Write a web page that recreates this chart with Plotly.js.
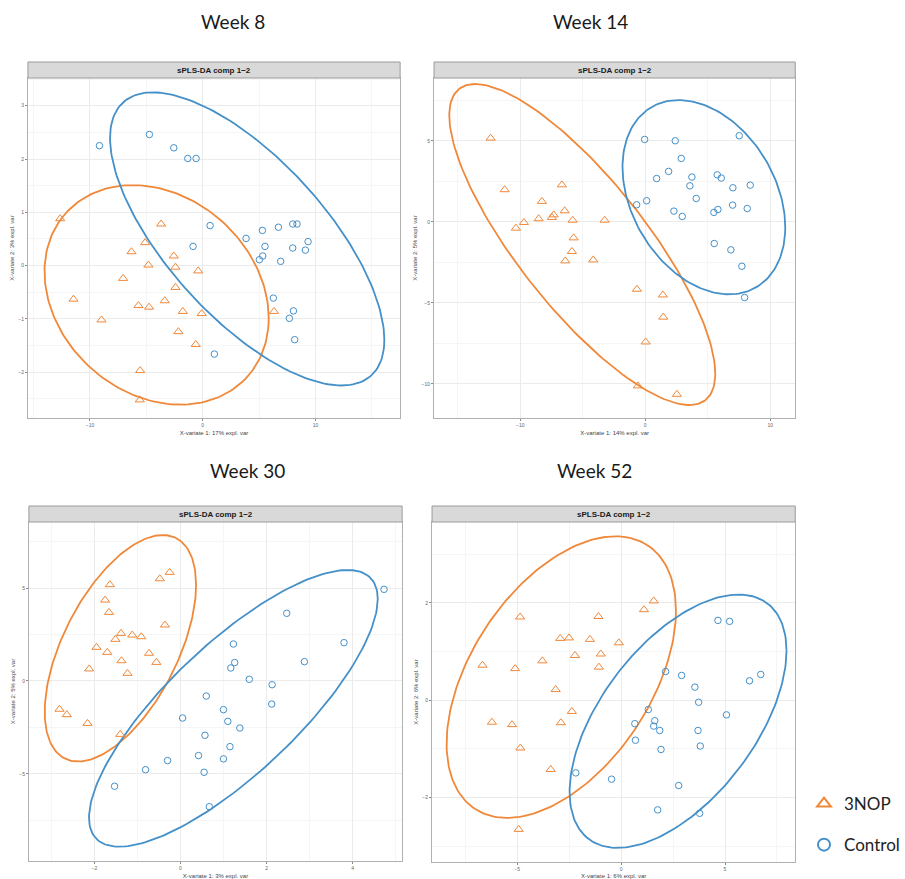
<!DOCTYPE html>
<html><head><meta charset="utf-8">
<script src="https://cdn.plot.ly/plotly-3.0.1.min.js"></script>
<style>html,body{margin:0;padding:0;background:#fff}</style>
</head><body><div id="chart" style="width:905px;height:879px"></div>
<script>
// ---------- data ----------
const groups = ["3NOP", "Control"];
const weeks = ["Week 8", "Week 14", "Week 30", "Week 52"];
const stripLabel = "sPLS-DA comp 1\u22122";
const xTitles = ["X-variate 1: 17% expl. var", "X-variate 1: 14% expl. var", "X-variate 1: 3% expl. var", "X-variate 1: 6% expl. var"];
const yTitles = ["X-variate 2: 3% expl. var", "X-variate 2: 5% expl. var", "X-variate 2: 5% expl. var", "X-variate 2: 6% expl. var"];

// Week 8
const w8NopX = [-12.64,-3.69,-5.11,-6.32,-2.57,-4.82,-2.42,-0.41,-7.06,-2.42,-11.46,-3.37,-5.70,-4.76,-1.77,-0.09,-8.98,6.32,-2.16,-0.62,-5.55,-5.58];
const w8NopY = [0.88,0.78,0.43,0.26,0.18,0.01,-0.03,-0.10,-0.24,-0.41,-0.63,-0.66,-0.75,-0.78,-0.86,-0.90,-1.02,-0.86,-1.24,-1.48,-1.97,-2.52];
const w8CtlX = [-9.16,-4.73,-2.57,-1.33,-0.59,0.65,-0.86,3.84,5.29,6.71,7.98,8.36,5.52,5.32,5.02,6.91,7.98,9.10,9.34,6.26,8.04,7.68,8.15,1.03];
const w8CtlY = [2.25,2.46,2.21,2.01,2.01,0.75,0.36,0.51,0.66,0.72,0.78,0.78,0.36,0.18,0.11,0.08,0.33,0.29,0.45,-0.61,-0.85,-0.99,-1.39,-1.66];
// ellipse: [centre x, centre y, half width, half height, x at the top]
const w8EllNop = [-4.09,-0.55,9.94,2.06,-6.2];
const w8EllCtl = [3.94,0.50,12.16,2.75,-4.43];

// Week 14
const w14NopX = [-12.37,-11.25,-6.67,-8.27,-10.35,-9.71,-8.53,-7.47,-7.33,-6.45,-5.81,-3.25,-5.73,-5.87,-6.40,-4.16,-0.67,1.41,1.44,0.03,-0.59,2.53];
const w14NopY = [5.16,1.98,2.28,1.26,-0.39,-0.04,0.19,0.27,0.43,0.68,0.10,0.10,-0.99,-1.83,-2.41,-2.35,-4.16,-4.51,-5.88,-7.41,-10.12,-10.64];
const w14CtlX = [-0.05,2.40,7.52,2.88,1.87,0.91,3.73,5.76,6.08,8.40,7.01,3.57,4.08,0.11,2.29,2.96,5.49,5.81,6.99,8.16,5.52,6.85,7.73,7.95,-0.69];
const w14CtlY = [5.08,5.00,5.31,3.91,3.11,2.67,2.76,2.90,2.70,2.26,2.10,2.22,1.44,1.30,0.66,0.33,0.58,0.76,1.03,0.82,-1.34,-1.73,-2.74,-4.67,1.05];
const w14EllNop = [-5.04,-1.40,10.64,9.90,-13.6];
const w14EllCtl = [4.69,1.52,6.51,5.99,2.67];

// Week 30
const w30NopX = [-0.25,-0.48,-1.64,-1.75,-1.66,-0.36,-1.38,-1.12,-0.91,-1.51,-1.95,-1.70,-0.73,-1.37,-0.56,-2.12,-1.23,-2.81,-2.64,-2.16,-1.40];
const w30NopY = [5.84,5.50,5.18,4.35,3.69,3.01,2.56,2.47,2.38,2.24,1.81,1.54,1.49,1.09,1.00,0.65,0.41,-1.52,-1.81,-2.28,-2.87];
const w30CtlX = [4.73,2.47,3.80,1.23,2.88,1.26,1.17,1.60,2.13,2.12,0.60,1.00,0.05,1.10,1.38,0.57,1.15,0.42,1.00,-0.30,-0.81,0.55,-1.53,0.67];
const w30CtlY = [4.93,3.64,2.06,1.99,1.04,0.99,0.70,0.09,-0.20,-1.24,-0.81,-1.54,-1.99,-2.17,-2.53,-2.92,-3.53,-4.01,-4.19,-4.28,-4.77,-4.91,-5.66,-6.76];
const w30EllNop = [-1.395,1.76,1.758,6.09,-0.41];
const w30EllCtl = [1.23,-1.47,3.354,7.44,3.88];

// Week 52
const w52NopX = [1.57,1.10,-4.86,-1.09,-2.93,-2.51,-1.50,-0.11,-2.22,-0.98,-6.67,-3.79,-5.10,-1.07,-3.15,-2.37,-6.22,-5.25,-2.90,-4.85,-3.39,-4.93];
const w52NopY = [2.04,1.86,1.71,1.72,1.27,1.28,1.25,1.18,0.92,0.95,0.72,0.81,0.65,0.68,0.22,-0.23,-0.45,-0.50,-0.46,-0.98,-1.42,-2.65];
const w52CtlX = [4.66,5.22,2.14,2.91,3.55,6.18,6.72,3.73,1.31,5.07,0.66,1.62,1.57,1.86,3.70,0.69,1.92,3.81,-2.18,-0.46,2.77,1.76,3.78];
const w52CtlY = [1.64,1.62,0.59,0.51,0.27,0.40,0.53,-0.04,-0.19,-0.30,-0.48,-0.42,-0.53,-0.62,-0.62,-0.82,-1.01,-0.94,-1.49,-1.62,-1.75,-2.25,-2.32];
const w52EllNop = [-2.88,0.476,5.52,2.89,-0.27];
const w52EllCtl = [2.74,-0.43,5.22,2.60,5.65];

// ---------- drawing ----------
const colNop = "#F0883A", colCtl = "#4590C8";
const W = 905, H = 879;
const panels = [
  {nx:w8NopX, ny:w8NopY, cx:w8CtlX, cy:w8CtlY, en:w8EllNop, ec:w8EllCtl, px:[28,401], py:[78,418], xr:[-15.5,17.5], yr:[-2.86,3.52], xd:10, yd:1},
  {nx:w14NopX, ny:w14NopY, cx:w14CtlX, cy:w14CtlY, en:w14EllNop, ec:w14EllCtl, px:[435,797], py:[78,418], xr:[-16.9,12.0], yr:[-12.1,8.87], xd:10, yd:5},
  {nx:w30NopX, ny:w30NopY, cx:w30CtlX, cy:w30CtlY, en:w30EllNop, ec:w30EllCtl, px:[29,403], py:[522,861], xr:[-3.52,5.15], yr:[-9.68,8.55], xd:2, yd:5},
  {nx:w52NopX, ny:w52NopY, cx:w52CtlX, cy:w52CtlY, en:w52EllNop, ec:w52EllCtl, px:[433,797], py:[522,862], xr:[-9.1,8.38], yr:[-3.32,3.66], xd:5, yd:2}
];
const titlePos = [[234,22],[592,22],[248,470],[596,470]];

function ellipse(p){
  const [cx,cy,rx,ry,xt] = p;
  const phi = Math.acos(Math.max(-1,Math.min(1,(xt-cx)/rx)));
  const xs=[], ys=[];
  for(let i=0;i<=200;i++){const t=2*Math.PI*i/200; xs.push(cx+rx*Math.cos(t)); ys.push(cy+ry*Math.cos(t-phi));}
  return {xs, ys};
}

const traces = [], shapes = [], annotations = [];
const layout = {width:W, height:H, margin:{l:0,r:0,t:0,b:0}, paper_bgcolor:"#fff", plot_bgcolor:"#fff",
  showlegend:true,
  legend:{x:806/W, y:1-786/H, xanchor:"left", yanchor:"top", font:{family:"Lato, sans-serif", size:17, color:"#222"},
    tracegroupgap:16, itemsizing:"constant", itemwidth:30, bgcolor:"rgba(0,0,0,0)"}};

panels.forEach((p,i)=>{
  const sx = i===0?"":String(i+1);
  const xa="x"+sx, ya="y"+sx;
  const en=ellipse(p.en), ec=ellipse(p.ec);
  traces.push({type:"scatter", mode:"lines", x:en.xs, y:en.ys, xaxis:xa, yaxis:ya, line:{color:colNop,width:1.8}, showlegend:false, hoverinfo:"skip"});
  traces.push({type:"scatter", mode:"lines", x:ec.xs, y:ec.ys, xaxis:xa, yaxis:ya, line:{color:colCtl,width:1.8}, showlegend:false, hoverinfo:"skip"});
  traces.push({type:"scatter", mode:"markers", name:groups[0], legendgroup:"g0", showlegend:i===0, x:p.nx, y:p.ny, xaxis:xa, yaxis:ya,
    marker:{symbol:"triangle-up-open", size:8, color:colNop, line:{width:1}}});
  traces.push({type:"scatter", mode:"markers", name:groups[1], legendgroup:"g1", showlegend:i===0, x:p.cx, y:p.cy, xaxis:xa, yaxis:ya,
    marker:{symbol:"circle-open", size:6.5, color:colCtl, line:{width:1}}});
  const common = {showgrid:true, gridcolor:"#ebebeb", gridwidth:1, zeroline:false, showline:true, mirror:true, linecolor:"#b0b0b0", linewidth:1,
    ticks:"outside", ticklen:2, tickcolor:"#888", tickfont:{size:5, color:"#666", family:"Liberation Sans, sans-serif"}};
  layout["xaxis"+sx] = Object.assign({}, common, {domain:[p.px[0]/W, p.px[1]/W], anchor:ya, range:p.xr, dtick:p.xd, tick0:0,
    minor:{showgrid:true, gridcolor:"#f5f5f5", dtick:p.xd/2, tick0:0},
    title:{text:xTitles[i], font:{size:6, color:"#444", family:"Liberation Sans, sans-serif"}, standoff:3}});
  layout["yaxis"+sx] = Object.assign({}, common, {domain:[1-p.py[1]/H, 1-p.py[0]/H], anchor:xa, range:p.yr, dtick:p.yd, tick0:0,
    minor:{showgrid:true, gridcolor:"#f5f5f5", dtick:p.yd/2, tick0:0},
    title:{text:yTitles[i], font:{size:6, color:"#444", family:"Liberation Sans, sans-serif"}, standoff:3}});
  shapes.push({type:"rect", xref:"paper", yref:"paper", x0:p.px[0]/W, x1:p.px[1]/W, y0:1-p.py[0]/H, y1:1-(p.py[0]-16)/H,
    fillcolor:"#d9d9d9", line:{color:"#9a9a9a", width:1}});
  annotations.push({xref:"paper", yref:"paper", x:(p.px[0]+p.px[1])/2/W, y:1-(p.py[0]-8)/H, text:"<b>"+stripLabel+"</b>",
    showarrow:false, xanchor:"center", yanchor:"middle", font:{size:8, color:"#1a1a1a", family:"Liberation Sans, sans-serif"}});
  annotations.push({xref:"paper", yref:"paper", x:titlePos[i][0]/W, y:1-titlePos[i][1]/H, text:weeks[i], showarrow:false,
    xanchor:"center", yanchor:"middle", font:{size:19, color:"#1a1a1a", family:"Lato, sans-serif"}});
});
layout.shapes = shapes; layout.annotations = annotations;
Plotly.newPlot("chart", traces, layout, {displayModeBar:false, staticPlot:true});
</script></body></html>
